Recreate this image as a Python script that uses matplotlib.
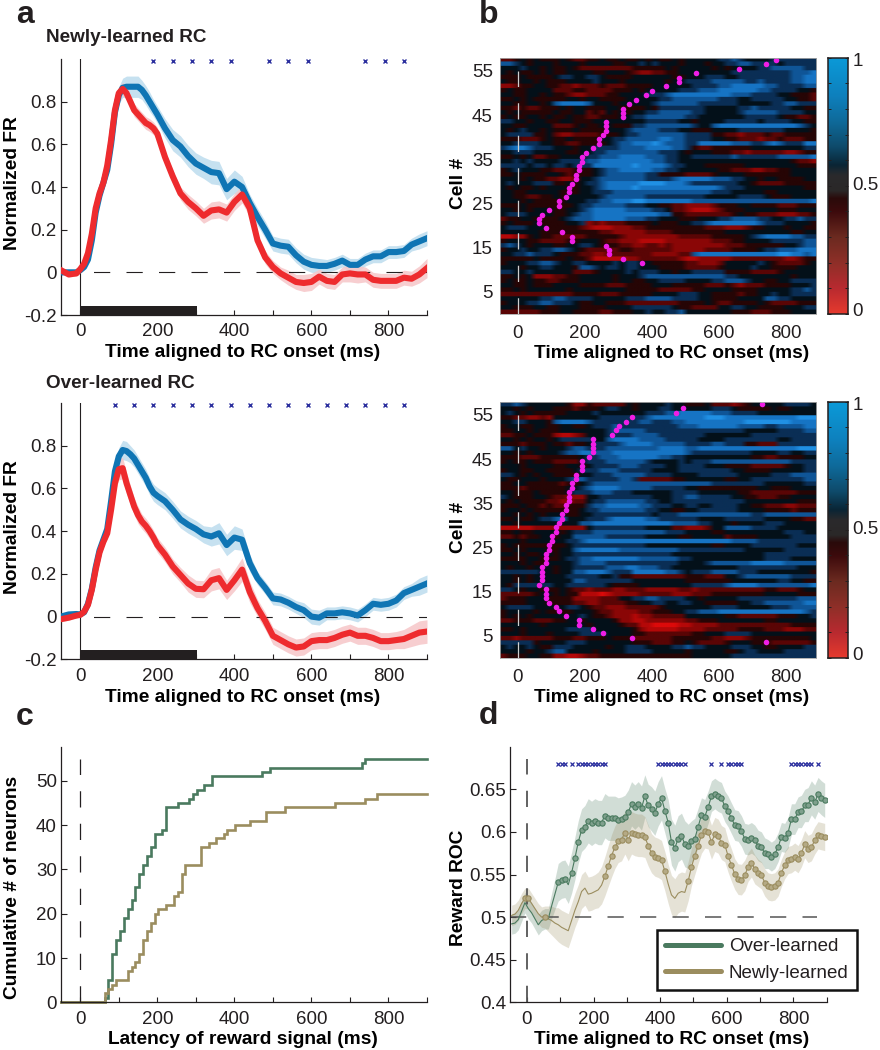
#!/usr/bin/env python3
"""Neuron reward signal figure: four panels a-d, rebuilt by eye from the reference."""

import numpy as np
import matplotlib
matplotlib.use("Agg")
import matplotlib.pyplot as plt
from matplotlib.colors import LinearSegmentedColormap

# ── panel a data ─────────────────────────────────────────────────────────────
T_A = [-50, -30, -10, 0, 10, 20, 30, 40, 50, 60, 70, 80, 90, 100, 110, 120, 130, 140, 150, 160,
       170, 180, 190, 200, 220, 240, 260, 280, 300, 320, 340, 360, 380, 400, 420, 440, 460, 480,
       500, 520, 540, 560, 580, 600, 620, 640, 660, 680, 700, 720, 740, 760, 780, 800, 820, 840,
       860, 880, 900]

NEW_BLUE = [.0, .0, .0, .01, .025, .06, .15, .28, .36, .42, .48, .60, .75, .83, .865, .87, .87, .87, .87, .855,
            .83, .80, .77, .74, .675, .62, .59, .545, .51, .49, .47, .465, .39, .425, .40, .325, .26, .20,
            .135, .125, .12, .08, .05, .035, .03, .03, .04, .055, .035, .035, .06, .075, .075, .095, .095, .10,
            .13, .145, .16]
NEW_BLUE_SEM = [.012, .012, .01, .01, .012, .015, .02, .02, .02, .02, .025, .03, .035, .04, .045, .05, .05, .05, .05, .045,
                .045, .045, .04, .04, .045, .05, .05, .05, .05, .05, .055, .055, .05, .055, .05, .04, .04, .04,
                .035, .035, .035, .035, .035, .035, .035, .03, .03, .03, .03, .03, .03, .03, .03, .03, .03, .03,
                .03, .035, .035]
NEW_RED = [.01, -.01, -.005, .015, .04, .09, .18, .30, .37, .42, .50, .62, .76, .84, .86, .84, .80, .76, .74, .72,
           .70, .69, .675, .65, .54, .45, .37, .33, .30, .265, .29, .295, .28, .33, .365, .30, .15, .07,
           .025, -.005, -.025, -.045, -.05, -.045, -.02, -.04, -.045, -.01, -.005, -.01, -.01, -.035, -.04, -.04, -.04, -.025,
           -.03, -.01, .02]
NEW_RED_SEM = [.012, .012, .012, .01, .012, .015, .02, .02, .02, .02, .02, .025, .025, .03, .03, .03, .03, .03, .03, .03,
               .03, .03, .03, .03, .03, .03, .03, .035, .035, .035, .04, .04, .04, .04, .04, .04, .03, .03,
               .03, .03, .035, .035, .04, .04, .035, .035, .035, .035, .04, .04, .035, .035, .035, .035, .035, .035,
               .035, .04, .045]
NEW_SIG = [190, 240, 290, 340, 390, 490, 540, 590, 740, 790, 840]

OVER_BLUE = [.0, .01, .012, .01, .02, .06, .13, .23, .31, .36, .41, .54, .68, .75, .78, .775, .76, .74, .71, .68,
             .65, .61, .58, .565, .54, .50, .455, .43, .41, .385, .375, .39, .335, .37, .36, .25, .18, .135,
             .085, .08, .065, .045, .03, .0, -.005, .015, .015, .02, .015, .005, .03, .06, .055, .06, .075, .11,
             .125, .14, .155]
OVER_BLUE_SEM = [.01, .01, .01, .01, .01, .012, .015, .02, .02, .02, .025, .03, .04, .04, .045, .045, .04, .04, .04, .04,
                 .04, .04, .04, .04, .04, .04, .04, .04, .04, .04, .045, .05, .05, .055, .05, .04, .03, .03,
                 .03, .03, .03, .03, .035, .035, .035, .03, .03, .03, .03, .03, .03, .03, .03, .03, .03, .03,
                 .03, .04, .04]
OVER_RED = [-.012, -.005, .005, .008, .023, .055, .125, .22, .30, .35, .39, .50, .625, .69, .695, .625, .57, .515, .475, .445,
            .425, .40, .37, .335, .29, .235, .195, .155, .13, .128, .17, .18, .125, .17, .22, .115, .04, -.02,
            -.09, -.11, -.13, -.145, -.14, -.115, -.11, -.11, -.10, -.085, -.075, -.09, -.09, -.10, -.115, -.115, -.11, -.105,
            -.09, -.075, -.07]
OVER_RED_SEM = [.012, .012, .01, .01, .01, .012, .015, .02, .02, .02, .025, .03, .04, .05, .05, .05, .045, .04, .04, .035,
                .035, .035, .035, .035, .035, .035, .035, .04, .04, .04, .05, .05, .045, .05, .055, .05, .04, .04,
                .04, .04, .04, .04, .04, .04, .04, .04, .04, .04, .04, .04, .04, .04, .04, .04, .04, .045,
                .05, .055, .055]
OVER_SIG = [90, 140, 190, 240, 290, 340, 390, 440, 490, 540, 590, 640, 690, 740, 790, 840]

# ── panel b data: one string per cell row (top row first), 0 = red ... 9 = blue ─
HEAT_NEW = [
    "33454544 45433445 44544545 44545555 56676555 56666666",
    "77654555 45554555 54455656 55545554 55667766 66566666",
    "55565545 44543333 33334444 45455555 45455556 67777766",
    "54544545 44555544 55543223 34455555 55566666 66667778",
    "44454444 56655665 44445555 55445556 66556666 66667788",
    "54455454 44555565 55455555 54556666 77777667 66667788",
    "22344554 43323334 33344445 55555666 67788888 77666677",
    "45445555 33344333 34445455 55566677 78888887 76666554",
    "55445545 44322333 44555566 67888888 88877766 66554443",
    "44545444 44554554 44455555 66777777 76665566 66655443",
    "55445545 78888755 54555556 77777766 66665555 56677666",
    "44343344 45455444 55444454 66666665 55556676 66665544",
    "54544444 54455343 54545566 77777665 55556777 77666655",
    "45445545 44544334 44556677 77776655 55555666 66544334",
    "66554554 45544455 55555566 66655455 55666665 66665544",
    "55445555 33345445 54446677 77777655 78888888 88888765",
    "54565545 44454444 55567777 66655444 55556666 66655554",
    "56666445 32233334 44566777 77776666 44332333 43344444",
    "44433345 44544445 56677777 88776666 55443332 33433344",
    "55666655 44334444 56778889 87776688 88877766 78766688",
    "67887666 55545566 66777788 88776433 44444455 55555566",
    "55666555 55445566 77777777 66654555 44433233 33322344",
    "44545334 45555667 77888877 76655666 66676666 66777778",
    "55656555 56666778 88888887 76655555 55555555 55554332",
    "66665665 66566688 88889888 87665554 44444555 55555444",
    "45655544 33344456 77888887 76655555 54433322 33445555",
    "44544445 54344456 77777766 44443333 45555444 44445555",
    "55545443 32235567 77777766 66788888 77766554 55444455",
    "56555666 44545667 88888999 98887666 66665543 33344444",
    "54544545 55445567 88889888 88888888 87666555 55555544",
    "55445555 54445566 67777777 77777777 66655555 44555555",
    "55443344 54555556 77777766 66666665 55556666 54445555",
    "55545444 44555667 78889988 88888777 77777777 77777778",
    "44454444 44456677 77766655 44332222 34445544 44333444",
    "55454555 44556788 88877776 65332111 23444555 55444555",
    "56665555 44567788 88888888 77443333 33345443 33222334",
    "34455444 45677788 88877766 55544455 56677776 65566766",
    "45444544 44556232 33344445 44455667 88888887 66655554",
    "56665554 44443211 12223344 44444443 33222344 55545544",
    "55555544 44444443 32222233 33444444 44555555 55554455",
    "11224544 33333444 44322222 22233333 44444567 88887766",
    "45554433 33445554 33222111 12222222 33344555 56666677",
    "67654555 44556654 44332233 23222222 22333444 44455677",
    "45565566 77654333 33443333 33222223 33344445 66777888",
    "55667666 54443322 33333332 22233788 88888888 88998878",
    "44444544 44544311 11122333 33321122 22233333 33322344",
    "45556677 65566555 56566554 44443322 23555556 54333345",
    "55545566 55547765 66566555 44443333 34555565 54444555",
    "66556555 55533345 55565666 55455666 66444433 33455555",
    "44545222 33445555 54555677 77777777 77665555 55554555",
    "45445443 34445555 54554455 66665555 66777655 44556666",
    "55445444 55554444 33344445 55444443 33432333 44445556",
    "44545555 55455555 55544444 33333445 55544445 55556676",
    "33333333 33344443 33444445 55566655 44443445 56556666",
    "55555566 77666655 55566677 77666655 44445555 77665555",
    "45556677 66654455 44433333 33344445 43344445 43333444",
    "55444554 45554444 55556666 66544333 35566554 44455566",
    "33333344 45544443 34445565 56675555 55544433 34445555",
]
HEAT_OVER = [
    "66765555 55422433 33354555 56554445 33323455 55566665",
    "55454555 44434445 66554555 66555555 66654444 45445555",
    "56545444 44555565 55555566 67788888 77766665 55555555",
    "44332232 55555556 66666678 88888889 99888888 88888999",
    "55665554 78888766 66666776 66778888 88888999 99998888",
    "45544554 45544566 67666666 66677788 88887777 66777788",
    "44554544 45555555 67777766 66666666 66666555 55666677",
    "33445444 21123555 66667777 66666665 55555566 66666666",
    "55454554 56666655 78888777 76666655 55666666 66556666",
    "44434445 44344566 66788887 77776666 77666443 33666666",
    "77565545 55677666 77777777 88887788 88888888 88888999",
    "55454555 56778877 78888888 88887666 66666655 55665566",
    "44433344 44445667 77888888 77665555 55555544 33444455",
    "45445444 33335666 77777765 55565666 77777777 77776666",
    "55545555 44554566 66777666 65566665 55444433 33345566",
    "45544554 44456667 77666665 55566666 66655444 45555566",
    "66545455 44445566 67777766 66555566 66665555 56667777",
    "54455545 55677666 66776333 33445555 55445566 66666677",
    "44554444 43445677 77777777 77777777 66666666 55555566",
    "44434444 44556788 88777776 66665544 44444445 54445555",
    "55444544 44566677 76665555 55666655 55554433 33333444",
    "65444554 33222556 66666665 55667766 66655443 33445555",
    "54544443 32233566 77777766 55666666 66666555 55555444",
    "44454434 33444677 88888776 66556655 66665544 33322333",
    "45545444 44445667 77777766 55445566 66665555 44443444",
    "55454545 55445566 66666665 66677777 77777766 77777777",
    "44544566 78555666 78888877 66666655 55666666 55554433",
    "55455555 55557788 88888888 88777766 55545555 66655555",
    "11111222 22222566 66666655 55332223 55777766 66555555",
    "44544555 54566677 77777777 76665555 44555555 55566655",
    "33434455 45577777 66666655 55544555 55344445 55556666",
    "55545555 55667888 88888888 88888888 88877776 66666666",
    "45444444 44566666 66666655 55555555 44555566 66666555",
    "44545554 45578888 88777777 77766666 66666555 55566666",
    "55454455 45566666 66666666 66555555 55555555 66666666",
    "44445544 45667788 88888777 77766555 55555555 66665555",
    "55545445 55567777 66666666 66655556 77777788 88877777",
    "54554555 45566666 77788777 66555555 55556666 66666555",
    "66666655 45577888 76668888 87765666 77776665 55555554",
    "55454555 55666665 56443333 33334443 33556777 77776666",
    "55454555 55577666 66665555 55554444 44455555 55665544",
    "54666666 55666666 54444555 55555666 66788887 77777778",
    "66545544 45433233 32233322 22233233 33333333 44333455",
    "33333455 45441110 12222333 33222333 44444444 55555444",
    "34445554 44422223 33556677 66665545 55556666 66666777",
    "44445554 44433223 33344556 65566554 44445566 77777788",
    "56666555 55665433 22233333 45555555 66665555 56667777",
    "45555454 44455543 32222334 44556677 78888888 88888876",
    "45454555 55556544 32221223 33335555 55443333 33444556",
    "33444333 44554555 54221122 22223344 45555555 44555555",
    "55555545 55555455 55433110 00011222 23333333 33334444",
    "44545555 55666655 55554211 11122223 33334444 33322233",
    "55545554 55556666 55554433 33333445 55666655 55555555",
    "33233333 44433444 54443333 33444444 33222344 44444445",
    "66666455 55666555 55554443 33445433 33455544 43333334",
    "56556544 66655555 45566655 55667665 55566655 44555566",
    "55554556 77555545 55566665 55554555 55445665 55566666",
    "34445544 22112334 44444444 44444555 55566666 66666666",
]
# latency dots, one per cell row going down from row 57.5 (also drives panel c)
LAT_NEW = [770, 740, 661, 531, 481, 481, 441, 402, 382, 352, 333, 313, 313, 313, 263, 263, 263, 253, 243, 243,
           223, 203, 193, 193, 183, 183, 173, 173, 163, 153, 153, 143, 123, 123, 93, 73, 63, 63, 83, 133,
           163, 163, 263, 273, 273, 313, 372]
LAT_OVER = [730, 492, 472, 342, 322, 302, 292, 282, 223, 223, 223, 223, 213, 193, 193, 193, 173, 173, 163, 163,
            153, 153, 153, 143, 143, 133, 133, 123, 113, 113, 103, 103, 93, 93, 83, 83, 83, 73, 73, 73,
            73, 63, 83, 83, 83, 93, 113, 123, 143, 183, 183, 223, 253, 342, 740]

# ── panel d data ─────────────────────────────────────────────────────────────
T_D = [-46, -36, -26, -16, -6, 4, 14, 24, 34, 44, 54, 64, 74, 84, 94, 104, 114, 124, 134, 144, 154, 164, 174, 184,
       194, 204, 214, 224, 234, 244, 254, 264, 274, 284, 294, 304, 314, 324, 334, 344, 354, 364, 374, 384, 394,
       404, 414, 424, 434, 444, 454, 464, 474, 484, 494, 504, 514, 524, 534, 544, 554, 564, 574, 584, 594, 604,
       614, 624, 634, 644, 654, 664, 674, 684, 694, 704, 714, 724, 734, 744, 754, 764, 774, 784, 794, 804, 814,
       824, 834, 844, 854, 864, 874, 884, 894]
ROC_OVER = [.492, .493, .497, .507, .517, .510, .505, .498, .491, .496, .498, .498, .513, .527,
            .541, .544, .545, .538, .552, .569, .588, .602, .606, .613, .610, .613, .611, .611, .619, .616, .616,
            .616, .614, .615, .617, .623, .633, .629, .633, .628, .642, .631, .627, .622, .633, .640, .625, .611,
            .588, .581, .592, .595, .586, .583, .589, .592, .606, .620, .618, .629, .642, .645, .642, .640, .630,
            .624, .616, .608, .607, .601, .592, .591, .593, .590, .584, .582, .575, .574, .571, .574, .582, .594,
            .593, .599, .615, .615, .623, .624, .631, .632, .640, .635, .644, .640, .637]
ROC_OVER_SEM = [.012, .012, .012, .012, .012, .012, .012, .012, .012, .012, .012, .012, .015, .018,
                .022, .022, .022, .022, .024, .025, .025, .025, .025, .026, .026, .026, .026, .026, .026, .026, .026,
                .026, .026, .026, .026, .026, .026, .026, .026, .026, .025, .025, .026, .026, .026, .026, .026, .027,
                .027, .027, .027, .027, .027, .026, .024, .024, .022, .020, .020, .019, .018, .018, .018, .018, .018,
                .018, .018, .018, .018, .018, .018, .018, .018, .018, .018, .018, .018, .017, .017, .017, .017, .017,
                .017, .018, .018, .018, .018, .019, .019, .020, .020, .020, .020, .020, .020]
ROC_NEW = [.502, .5035, .508, .516, .522, .522, .516, .51, .504, .5, .5, .498, .496, .493, .491, .488, .486, .484,
           .496, .508, .518, .53, .534, .527, .528, .53, .532, .5375, .548, .56, .572, .582, .589, .591, .599, .591,
           .599, .597, .596, .596, .594, .584, .575, .571, .5695, .567, .554, .539, .526, .522, .528, .53, .529, .542,
           .559, .572, .584, .596, .601, .6, .588, .597, .595, .5875, .585, .5715, .561, .5505, .5445, .544, .549,
           .559, .564, .556, .552, .549, .5406, .536, .535, .536, .5406, .552, .561, .567, .568, .571, .568, .575,
           .5855, .58, .582, .59, .596, .595, .594]
ROC_NEW_SEM = [.012, .012, .012, .012, .012, .012, .012, .012, .012, .012, .013, .015, .017, .018, .020, .020, .020, .020,
               .020, .020, .020, .020, .020, .020, .020, .020, .021, .022, .023, .024, .025, .025, .025, .025, .025, .025,
               .025, .025, .025, .025, .024, .024, .023, .023, .023, .023, .023, .023, .023, .023, .023, .023, .023, .023,
               .022, .022, .021, .021, .020, .020, .020, .020, .020, .020, .020, .019, .019, .018, .018, .018, .018,
               .017, .017, .017, .016, .016, .016, .016, .016, .016, .016, .016, .016, .016, .016, .016, .016, .016,
               .016, .016, .016, .016, .016, .016, .016]
# times drawn with a circle on top of the thin line
ROC_OVER_MARK = T_D[14:17] + T_D[18:]
ROC_NEW_MARK = T_D[4:6] + T_D[10:11] + T_D[28:47] + T_D[53:]
ROC_SIG = [94, 104, 114, 134, 154, 164, 174, 184, 194, 204, 214, 224, 234,
           394, 404, 414, 424, 434, 444, 454, 464, 474, 554, 584, 604, 614, 624, 634, 644,
           794, 804, 814, 824, 834, 844, 854, 874]

# ── colours ──────────────────────────────────────────────────────────────────
BLUE, BLUE_BAND = "#0f75b4", "#bcdcee"
RED, RED_BAND = "#ee2b2e", "#f6c6c8"
GREEN, TAN = "#4a7a5f", "#9b8d5f"
NAVY = "#2b2f9e"
INK = "#231f20"

heat_cmap = LinearSegmentedColormap.from_list("heat", [
    "#dc0a0a", "#b40808", "#8a0606", "#5a0505", "#260505",
    "#031019", "#0a2e55", "#0f5596", "#1674c4", "#2090e4"])
bar_cmap = LinearSegmentedColormap.from_list("bar", [
    (0.0, "#e63a2e"), (0.1, "#b82a30"), (0.2, "#8e2f28"), (0.3, "#6b2a20"), (0.4, "#3c0a0c"),
    (0.45, "#2a0a0a"), (0.48, "#2b2828"), (0.54, "#2a2a2c"), (0.58, "#0a2535"), (0.65, "#0e4a6a"),
    (0.75, "#0f6a9a"), (0.85, "#0e80bd"), (1.0, "#0b9ad8")])

plt.rcParams.update({
    "font.family": ["Liberation Sans", "DejaVu Sans"],
    "font.size": 13.5,
    "axes.linewidth": 0.9,
    "axes.edgecolor": INK,
    "text.color": INK,
    "xtick.color": INK,
    "ytick.color": INK,
    "xtick.direction": "in",
    "ytick.direction": "in",
    "lines.scale_dashes": False,
})
W, H = 880, 1050
DASH = (0, (11.7, 11.7))
LABEL_SIZE = 13.8
fig = plt.figure(figsize=(W / 100, H / 100), dpi=100)


def px_axes(left, top, right, bottom):
    return fig.add_axes([left / W, 1 - bottom / H, (right - left) / W, (bottom - top) / H])


def place_labels(ax, xlabel, xlab_px, ylabel, ylab_px):
    # label centres given in figure pixels
    box = ax.get_position()
    ax.set_xlabel(xlabel, fontweight="bold", fontsize=LABEL_SIZE)
    ax.xaxis.set_label_coords((xlab_px[0] / W - box.x0) / box.width,
                              (1 - xlab_px[1] / H - box.y0) / box.height)
    ax.xaxis.label.set_va("center")
    ax.set_ylabel(ylabel, fontweight="bold", fontsize=LABEL_SIZE)
    ax.yaxis.set_label_coords((ylab_px[0] / W - box.x0) / box.width,
                              (1 - ylab_px[1] / H - box.y0) / box.height)
    ax.yaxis.label.set_va("center")


def line_axes_style(ax, xlim, ylim, yticks, ylabels):
    ax.set_xlim(*xlim)
    ax.set_ylim(*ylim)
    ax.spines[["top", "right"]].set_visible(False)
    ax.set_xticks(range(0, 901, 100))
    ax.set_xticklabels(["0", "", "200", "", "400", "", "600", "", "800", ""])
    ax.set_yticks(yticks)
    ax.set_yticklabels(ylabels)
    ax.tick_params(axis="x", length=3.5, width=0.8, pad=6)
    ax.tick_params(axis="y", length=4, width=0.8, pad=3)


def fr_panel(box, title, title_y, blue, blue_sem, red, red_sem, sig, xlab_y, ylab_y):
    ax = px_axes(*box)
    t = np.array(T_A)
    for mean, sem, col in ((blue, blue_sem, BLUE_BAND), (red, red_sem, RED_BAND)):
        mean, sem = np.array(mean), np.array(sem)
        ax.fill_between(t, mean - sem, mean + sem, color=col, alpha=0.85, lw=0)
    ax.plot([-50, 900], [0, 0], color=INK, lw=0.8, linestyle=DASH, zorder=2)
    ax.axvline(0, color=INK, lw=0.8, zorder=2)
    ax.plot(t, blue, color=BLUE, lw=4.4, zorder=3, solid_joinstyle="round")
    ax.plot(t, red, color=RED, lw=4.4, zorder=4, solid_joinstyle="round")
    ax.barh(-0.178, 303, height=0.044, left=0, color=INK, zorder=5)
    ax.plot(sig, [0.99] * len(sig), ls="", marker="x", ms=3, mew=1, color=NAVY, clip_on=False)
    line_axes_style(ax, (-50, 900), (-0.2, 1.0), [-.2, 0, .2, .4, .6, .8],
                    ["-0.2", "0", "0.2", "0.4", "0.6", "0.8"])
    place_labels(ax, "Time aligned to RC onset (ms)", (243, xlab_y), "Normalized FR", (13, ylab_y))
    fig.text(46 / W, 1 - title_y / H, title, fontweight="bold", fontsize=13.6, va="center", ha="left")
    return ax


def heat_panel(box, rows, latencies, xlab_y, ylab_y):
    ax = px_axes(*box)
    grid = np.array([[int(c) for c in r.replace(" ", "")] for r in rows])
    # rows repeated so the smoothing runs along time and the rows stay streaks
    ax.imshow(np.repeat(grid, 5, axis=0), cmap=heat_cmap, vmin=0, vmax=9, aspect="auto",
              interpolation="bilinear", extent=(-54, 890, 0, 58))
    ax.plot([0, 0], [0, 55], color="#d0d0d0", lw=0.9, linestyle=DASH)
    dots_y = [57.5 - i for i in range(len(latencies))]
    ax.plot(latencies, dots_y, ls="", marker="o", ms=4, mew=0, color="#f01ee6")
    ax.set_xlim(-54, 890)
    ax.set_ylim(0, 58)
    ax.set_xticks([0, 200, 400, 600, 800])
    ax.set_yticks([5, 15, 25, 35, 45, 55])
    ax.tick_params(length=0, pad=5)
    ax.tick_params(axis="x", pad=8)
    for s in ax.spines.values():
        s.set_edgecolor("#a8a8a8")
        s.set_linewidth(0.6)
    place_labels(ax, "Time aligned to RC onset (ms)", (672, xlab_y), "Cell #", (458, ylab_y))
    return ax


def colour_bar(top, bottom):
    ax = px_axes(828, top, 848, bottom)
    ax.imshow(np.linspace(1, 0, 256).reshape(-1, 1), cmap=bar_cmap, vmin=0, vmax=1, aspect="auto",
              extent=(0, 1, 0, 1))
    ax.set_xticks([])
    ax.set_yticks(np.arange(0, 1.01, 0.1))
    ax.set_yticklabels([])
    ax.tick_params(axis="y", left=True, right=True, length=2.5, width=0.7, color=INK)
    for s in ax.spines.values():
        s.set_linewidth(1.1)
    for y, lab in ((0.985, "1"), (0.5, "0.5"), (0.01, "0")):
        ax.text(1.22, y, lab, transform=ax.transAxes, va="center", ha="left")


# ── a ──
ax_a1 = fr_panel((61, 59, 427, 315), "Newly-learned RC", 38, NEW_BLUE, NEW_BLUE_SEM, NEW_RED, NEW_RED_SEM,
                 NEW_SIG, 353, 183)
ax_a2 = fr_panel((61, 403, 427, 659.3), "Over-learned RC", 383, OVER_BLUE, OVER_BLUE_SEM, OVER_RED, OVER_RED_SEM,
                 OVER_SIG, 697, 527)

# ── b ──
heat_panel((499.7, 57.7, 816, 314), HEAT_NEW, LAT_NEW, 353, 183)
colour_bar(57.7, 314)
heat_panel((499.7, 401.7, 816, 657.7), HEAT_OVER, LAT_OVER, 697, 527)
colour_bar(401.7, 657.7)

# ── c ──
ax_c = px_axes(61, 746.7, 427, 1002.3)
for lat, col in ((LAT_OVER, GREEN), (LAT_NEW, TAN)):
    times = np.sort(lat)
    counts = np.arange(1, len(times) + 1)
    ax_c.step(np.r_[-50, times, 900], np.r_[0, counts, counts[-1]], where="post", color=col, lw=1.9,
              clip_on=False, solid_joinstyle="miter")
ax_c.plot([0, 0], [0, 55], color=INK, lw=0.9, linestyle=DASH)
line_axes_style(ax_c, (-50, 900), (0, 57.7), [0, 10, 20, 30, 40, 50], ["0", "10", "20", "30", "40", "50"])
place_labels(ax_c, "Latency of reward signal (ms)", (243, 1040), "Cumulative # of neurons", (13, 887))

# ── d ──
ax_d = px_axes(510.3, 746.7, 826.7, 1002.3)
t_d = np.array(T_D)
for mean, sem, col in ((ROC_OVER, ROC_OVER_SEM, GREEN), (ROC_NEW, ROC_NEW_SEM, TAN)):
    mean, sem = np.array(mean), np.array(sem)
    ax_d.fill_between(t_d, mean - sem, mean + sem, color=col, alpha=0.25, lw=0)
ax_d.plot([0, 0], [0.4, 0.685], color="#555555", lw=1.3, linestyle=DASH, zorder=2)
ax_d.plot([-50, 870], [0.5, 0.5], color="#555555", lw=1.1, linestyle=DASH, zorder=2)
for mean, marks, col, name, face in ((ROC_NEW, ROC_NEW_MARK, TAN, "Newly-learned", "#b5aa85"),
                                     (ROC_OVER, ROC_OVER_MARK, GREEN, "Over-learned", "#7fa08d")):
    ax_d.plot(t_d, mean, color=col, lw=0.8, zorder=3)
    idx = [T_D.index(m) for m in marks]
    ax_d.plot(t_d[idx], np.array(mean)[idx], ls="", marker="o", ms=3.8, mew=0.8, mec=col, mfc=face, zorder=4)
ax_d.plot(ROC_SIG, [0.68] * len(ROC_SIG), ls="", marker="x", ms=3.2, mew=0.9, color=NAVY)
line_axes_style(ax_d, (-50, 895), (0.4, 0.7), [.4, .45, .5, .55, .6, .65],
                ["0.4", "0.45", "0.5", "0.55", "0.6", "0.65"])
place_labels(ax_d, "Time aligned to RC onset (ms)", (672, 1040), "Reward ROC", (458, 888))

handles = [plt.Line2D([], [], color=GREEN, lw=3.6, solid_capstyle="round"),
           plt.Line2D([], [], color=TAN, lw=3.6, solid_capstyle="round")]
leg = fig.legend(handles, ["Over-learned", "Newly-learned"], loc="lower left", frameon=True, fancybox=False,
                 bbox_to_anchor=(656.7 / W, 1 - 990 / H), borderaxespad=0, handlelength=3,
                 handletextpad=0.4, labelspacing=0.5, borderpad=0.45, fontsize=13.5)
leg.get_frame().set_edgecolor("#111111")
leg.get_frame().set_linewidth(1.8)
leg.get_frame().set_alpha(1)

# ── panel letters ──
for letter, x, y in (("a", 16, 15), ("b", 479, 15), ("c", 16, 717), ("d", 479, 716)):
    fig.text(x / W, 1 - y / H, letter, fontweight="bold", fontsize=23, va="center", ha="left")

fig.savefig("out.png", dpi=100)
